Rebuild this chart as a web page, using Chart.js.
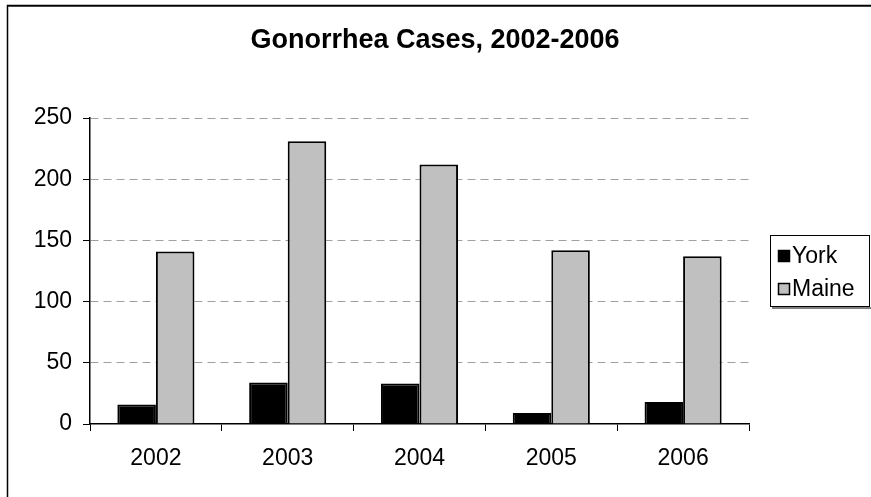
<!DOCTYPE html>
<html>
<head>
<meta charset="utf-8">
<script src="https://cdn.jsdelivr.net/npm/chart.js@4"></script>
<style>
  html, body { margin: 0; padding: 0; background: #fff; }
  #wrap { width: 871px; height: 497px; position: relative; }
</style>
</head>
<body>
<div id="wrap"><canvas id="chart" width="871" height="497"></canvas></div>
<script>
const years = ['2002', '2003', '2004', '2005', '2006'];
const yorkCases = [16, 34, 33, 9, 18];
const maineCases = [141, 231, 212, 142, 137];
const seriesNames = ['York', 'Maine'];
const yTicks = [0, 50, 100, 150, 200, 250];
const chartTitle = 'Gonorrhea Cases, 2002-2006';

const FONT = '"Liberation Sans", Arial, sans-serif';

// outer frame of the chart (right/bottom edges fall outside the picture)
const framePlugin = {
  id: 'frame',
  beforeDraw(chart) {
    const ctx = chart.ctx;
    ctx.save();
    ctx.fillStyle = '#fff';
    ctx.fillRect(0, 0, chart.width, chart.height);
    ctx.strokeStyle = '#000';
    ctx.lineWidth = 1.5;
    ctx.beginPath();
    ctx.moveTo(7.5, chart.height + 5);
    ctx.lineTo(7.5, 5.5);
    ctx.lineTo(chart.width + 5, 5.5);
    ctx.stroke();
    ctx.strokeStyle = '#444';
    ctx.lineWidth = 1;
    ctx.beginPath();
    ctx.moveTo(8, 6.5);
    ctx.lineTo(chart.width + 5, 6.5);
    ctx.stroke();
    ctx.restore();
  },
  // title centred on the whole chart, as Excel does
  afterDraw(chart) {
    const ctx = chart.ctx;
    ctx.save();
    ctx.font = 'bold 27px ' + FONT;
    ctx.fillStyle = '#000';
    ctx.textAlign = 'center';
    ctx.textBaseline = 'middle';
    ctx.fillText(chartTitle, 435, 41);
    ctx.restore();
  }
};

// Excel-style boxed legend on the right
const boxLegend = {
  id: 'boxLegend',
  afterDraw(chart) {
    const ctx = chart.ctx;
    const left = 770, top = 235, w = 100, h = 72;
    ctx.save();
    ctx.fillStyle = '#808080';
    ctx.fillRect(left + 2, top + h, w, 2);
    ctx.fillStyle = '#fff';
    ctx.fillRect(left, top, w, h);
    ctx.strokeStyle = '#000';
    ctx.lineWidth = 1;
    ctx.strokeRect(left + 0.5, top + 0.5, w - 1, h - 1);
    ctx.font = '23px ' + FONT;
    ctx.textBaseline = 'middle';
    chart.data.datasets.forEach((ds, i) => {
      const cy = 256 + i * 33;
      ctx.fillStyle = ds.backgroundColor;
      ctx.fillRect(778, cy - 6, 12, 12);
      ctx.strokeStyle = '#000';
      ctx.lineWidth = 1.5;
      ctx.strokeRect(778.5, cy - 5.5, 11, 11);
      ctx.fillStyle = '#000';
      ctx.fillText(ds.label, 792, cy + 1);
    });
    ctx.restore();
  }
};

new Chart(document.getElementById('chart'), {
  type: 'bar',
  data: {
    labels: years,
    datasets: [
      {
        label: seriesNames[0],
        data: yorkCases,
        backgroundColor: '#000000',
        borderColor: '#000000',
        borderWidth: 2,
        categoryPercentage: 0.585,
        barPercentage: 1.0
      },
      {
        label: seriesNames[1],
        data: maineCases,
        backgroundColor: '#c0c0c0',
        borderColor: '#000000',
        borderWidth: 2,
        categoryPercentage: 0.585,
        barPercentage: 1.0
      }
    ]
  },
  options: {
    responsive: false,
    animation: false,
    layout: { padding: { left: 35, right: 122, top: 118, bottom: 27 } },
    plugins: {
      legend: { display: false },
      tooltip: { enabled: false },
      title: { display: false }
    },
    scales: {
      x: {
        afterFit(scale) { scale.height = 46; },
        grid: {
          offset: true,
          drawOnChartArea: false,
          drawTicks: true,
          tickLength: 7,
          tickColor: '#000',
          color: '#000'
        },
        border: { display: true, color: '#000', width: 1.5 },
        ticks: { color: '#000', padding: 14, font: { family: FONT, size: 23 } }
      },
      y: {
        min: 0,
        max: 250,
        afterBuildTicks(scale) {
          scale.ticks = yTicks.map(v => ({ value: v }));
        },
        afterFit(scale) { scale.width = 55; },
        grid: {
          color: (c) => (c.tick && c.tick.value === 0 ? 'rgba(0,0,0,0)' : '#a0a0a0'),
          lineWidth: 1,
          drawTicks: true,
          tickLength: 7,
          tickColor: '#000'
        },
        border: { display: true, color: '#000', width: 1.5, dash: [8, 5] },
        ticks: { color: '#000', padding: 11, font: { family: FONT, size: 23 } }
      }
    }
  },
  plugins: [framePlugin, boxLegend]
});
</script>
</body>
</html>
